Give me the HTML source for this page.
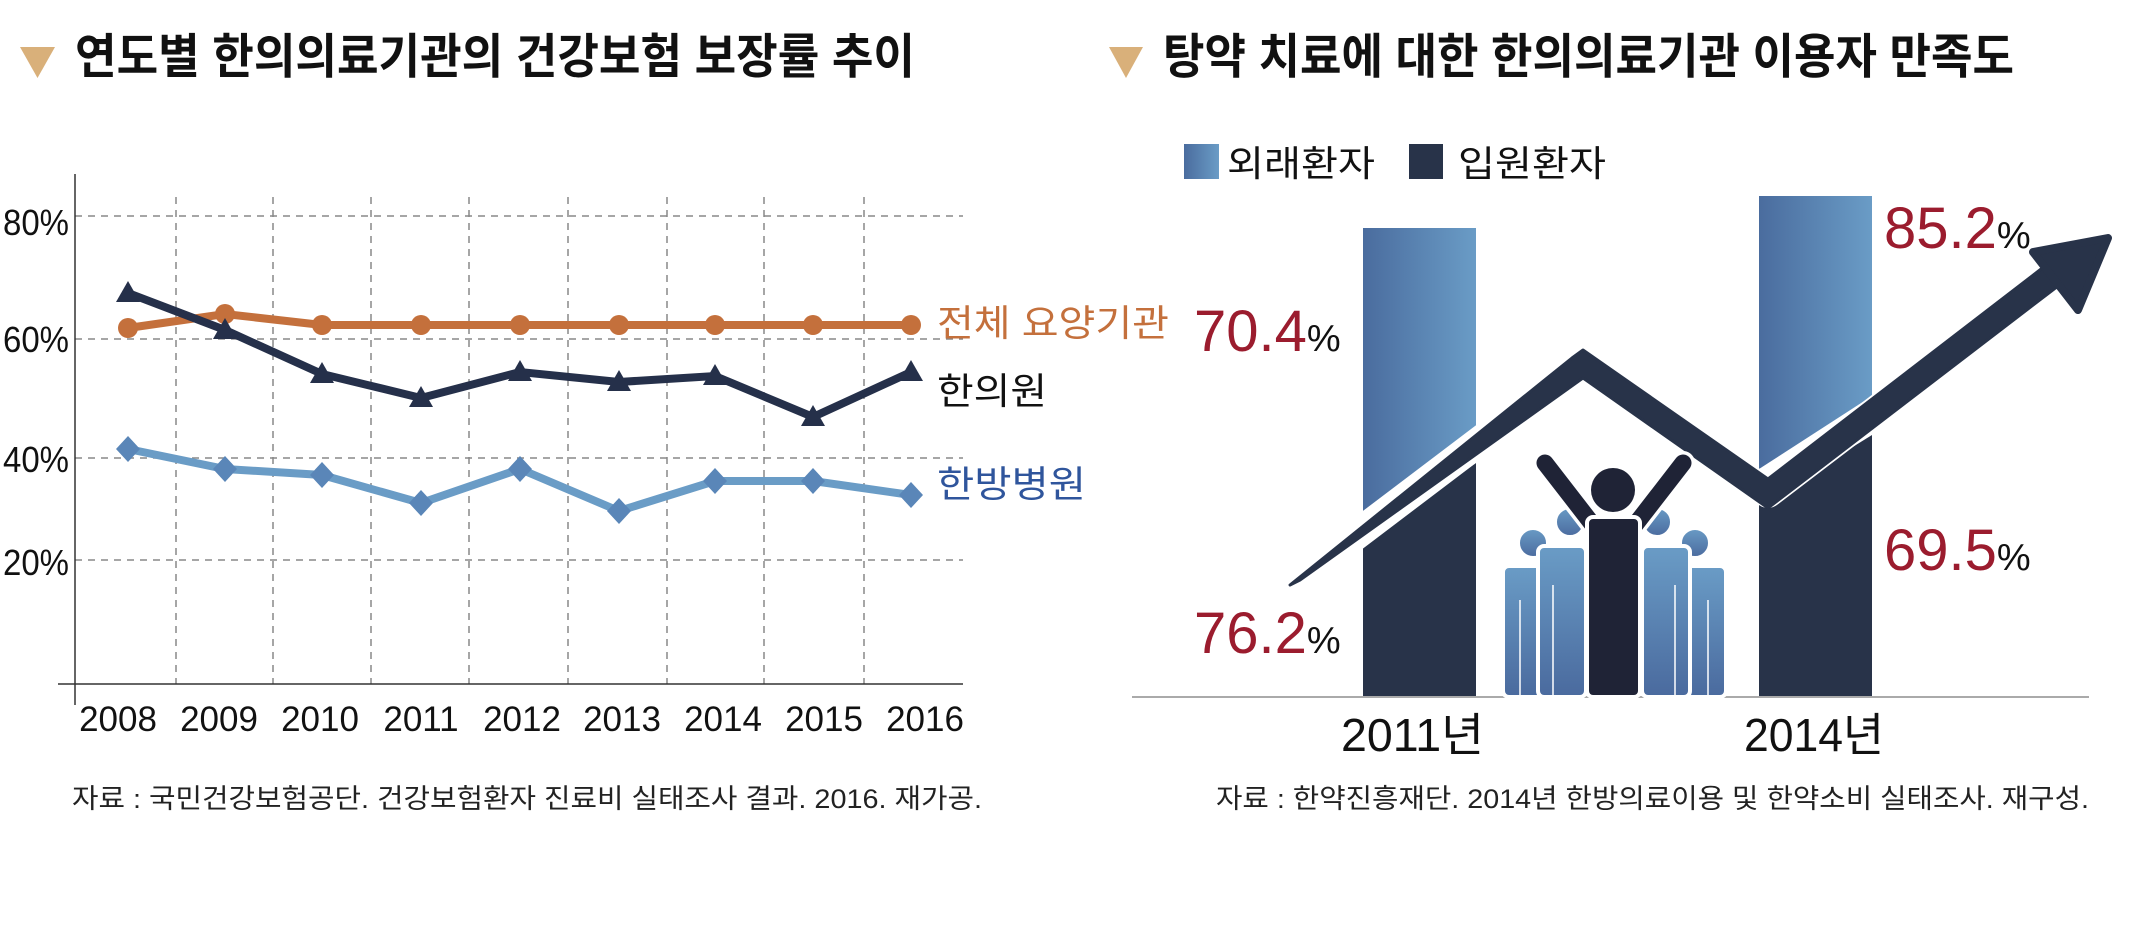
<!DOCTYPE html>
<html><head><meta charset="utf-8"><style>
html,body{margin:0;padding:0;background:#fff;}
svg{display:block;}
text{font-family:"Liberation Sans","Noto Sans CJK KR",sans-serif;}
</style></head><body>
<svg width="2142" height="948" viewBox="0 0 2142 948" xmlns="http://www.w3.org/2000/svg">
<defs>
<linearGradient id="lb" x1="0" x2="1" y1="0" y2="0"><stop offset="0" stop-color="#4a6c9e"/><stop offset="1" stop-color="#6a9cc6"/></linearGradient>
<linearGradient id="pb" x1="0" x2="0" y1="0" y2="1"><stop offset="0" stop-color="#6a9cc6"/><stop offset="1" stop-color="#4a6a9e"/></linearGradient>
</defs>
<!-- LEFT -->
<polygon points="20,47 55,47 37.5,78" fill="#d9b07a"/>
<text x="75" y="73" font-size="48" font-weight="bold" fill="#111" textLength="840" lengthAdjust="spacingAndGlyphs">연도별 한의의료기관의 건강보험 보장률 추이</text>
<g stroke="#888" stroke-width="1.5" stroke-dasharray="7,6" fill="none">
<line x1="75" y1="216" x2="963" y2="216"/><line x1="75" y1="339" x2="963" y2="339"/>
<line x1="75" y1="458" x2="963" y2="458"/><line x1="75" y1="560" x2="963" y2="560"/>
<line x1="176" y1="197" x2="176" y2="684"/><line x1="273" y1="197" x2="273" y2="684"/>
<line x1="371" y1="197" x2="371" y2="684"/><line x1="469" y1="197" x2="469" y2="684"/>
<line x1="568" y1="197" x2="568" y2="684"/><line x1="667" y1="197" x2="667" y2="684"/>
<line x1="764" y1="197" x2="764" y2="684"/><line x1="864" y1="197" x2="864" y2="684"/>
</g>
<line x1="75" y1="174" x2="75" y2="705" stroke="#333" stroke-width="1.5"/>
<line x1="58" y1="684" x2="963" y2="684" stroke="#333" stroke-width="1.5"/>
<g font-size="36" fill="#111">
<text x="3" y="235" textLength="66" lengthAdjust="spacingAndGlyphs">80%</text>
<text x="3" y="352" textLength="66" lengthAdjust="spacingAndGlyphs">60%</text>
<text x="3" y="472" textLength="66" lengthAdjust="spacingAndGlyphs">40%</text>
<text x="3" y="575" textLength="66" lengthAdjust="spacingAndGlyphs">20%</text>
</g>
<g font-size="35" fill="#111" text-anchor="middle">
<text x="118" y="731">2008</text><text x="219" y="731">2009</text><text x="320" y="731">2010</text>
<text x="421" y="731">2011</text><text x="522" y="731">2012</text><text x="622" y="731">2013</text>
<text x="723" y="731">2014</text><text x="824" y="731">2015</text><text x="925" y="731">2016</text>
</g>
<!-- orange -->
<polyline points="128,328 225,314 322,325 421,325 520,325 619,325 715,325 813,325 911,325" fill="none" stroke="#c4703c" stroke-width="8"/>
<g fill="#c4703c"><circle cx="128" cy="328" r="10"/><circle cx="225" cy="314" r="10"/><circle cx="322" cy="325" r="10"/><circle cx="421" cy="325" r="10"/><circle cx="520" cy="325" r="10"/><circle cx="619" cy="325" r="10"/><circle cx="715" cy="325" r="10"/><circle cx="813" cy="325" r="10"/><circle cx="911" cy="325" r="10"/></g>
<!-- navy -->
<polyline points="128,293 225,330 322,374 421,398 520,372 619,382 715,376 813,417 911,372" fill="none" stroke="#25304a" stroke-width="8"/>
<g fill="#25304a">
<polygon points="128,281 140,302 116,302"/><polygon points="225,318 237,339 213,339"/><polygon points="322,362 334,383 310,383"/><polygon points="421,386 433,407 409,407"/><polygon points="520,360 532,381 508,381"/><polygon points="619,370 631,391 607,391"/><polygon points="715,364 727,385 703,385"/><polygon points="813,405 825,426 801,426"/><polygon points="911,360 923,381 899,381"/>
</g>
<!-- blue -->
<polyline points="128,449 225,469 322,475 421,503 520,469 619,511 715,481 813,481 911,495" fill="none" stroke="#6a9cc6" stroke-width="8"/>
<g fill="#5a86b8">
<polygon points="128,436 140,449 128,462 116,449"/><polygon points="225,456 237,469 225,482 213,469"/><polygon points="322,462 334,475 322,488 310,475"/><polygon points="421,490 433,503 421,516 409,503"/><polygon points="520,456 532,469 520,482 508,469"/><polygon points="619,498 631,511 619,524 607,511"/><polygon points="715,468 727,481 715,494 703,481"/><polygon points="813,468 825,481 813,494 801,481"/><polygon points="911,482 923,495 911,508 899,495"/>
</g>
<text x="937" y="336" font-size="37" fill="#c4703c" textLength="232" lengthAdjust="spacingAndGlyphs">전체 요양기관</text>
<text x="937" y="404" font-size="37" fill="#111" textLength="110" lengthAdjust="spacingAndGlyphs">한의원</text>
<text x="937" y="497" font-size="37" fill="#2f559c" textLength="149" lengthAdjust="spacingAndGlyphs">한방병원</text>
<text x="72" y="808" font-size="27" fill="#222" textLength="910" lengthAdjust="spacingAndGlyphs">자료 : 국민건강보험공단. 건강보험환자 진료비 실태조사 결과. 2016. 재가공.</text>

<!-- RIGHT -->
<polygon points="1109,47 1143,47 1126,78" fill="#d9b07a"/>
<text x="1163" y="73" font-size="48" font-weight="bold" fill="#111" textLength="851" lengthAdjust="spacingAndGlyphs">탕약 치료에 대한 한의의료기관 이용자 만족도</text>
<rect x="1184" y="144" width="35" height="35" fill="url(#lb)"/>
<text x="1227" y="176" font-size="36" fill="#111" textLength="148" lengthAdjust="spacingAndGlyphs">외래환자</text>
<rect x="1409" y="144" width="34" height="35" fill="#283349"/>
<text x="1458" y="176" font-size="36" fill="#111" textLength="148" lengthAdjust="spacingAndGlyphs">입원환자</text>
<!-- bars -->
<polygon points="1363,228 1476,228 1476,429 1363,520" fill="url(#lb)"/>
<polygon points="1363,541 1476,463 1476,697 1363,697" fill="#283349"/>
<polygon points="1759,196 1872,196 1872,396 1759,469" fill="url(#lb)"/>
<polygon points="1759,505 1872,435 1872,697 1759,697" fill="#283349"/>
<line x1="1132" y1="697" x2="2089" y2="697" stroke="#aaa" stroke-width="2"/>
<!-- arrow -->
<polyline points="1290,585 1583,363 1768,493 2050,278" fill="none" stroke="#fff" stroke-width="30" stroke-linejoin="round"/>
<polygon points="1290,585 1572,358 1583,350 1768,479 2045,266 2058,286 1768,508 1583,378 1300,580" fill="#283349" stroke="#283349" stroke-width="3" stroke-linejoin="round"/>
<polygon points="2033,252 2108,238 2078,310" fill="#283349" stroke="#283349" stroke-width="8" stroke-linejoin="round"/>
<!-- people -->
<g stroke="#fff" stroke-width="4" fill="url(#pb)">
<circle cx="1533" cy="543" r="15"/><circle cx="1695" cy="543" r="15"/>
<rect x="1503" y="566" width="46" height="131" rx="6"/><rect x="1680" y="566" width="46" height="131" rx="6"/>
<circle cx="1570" cy="522" r="15"/><circle cx="1657" cy="522" r="15"/>
<rect x="1538" y="546" width="48" height="151" rx="6"/><rect x="1642" y="546" width="48" height="151" rx="6"/>
</g>
<g stroke="#fff" stroke-width="1.5">
<line x1="1520" y1="600" x2="1520" y2="697"/><line x1="1708" y1="600" x2="1708" y2="697"/>
<line x1="1553" y1="585" x2="1553" y2="697"/><line x1="1675" y1="585" x2="1675" y2="697"/>
</g>
<line x1="1545" y1="463" x2="1593" y2="525" stroke="#fff" stroke-width="24" stroke-linecap="round"/>
<line x1="1683" y1="463" x2="1635" y2="525" stroke="#fff" stroke-width="24" stroke-linecap="round"/>
<line x1="1545" y1="463" x2="1593" y2="525" stroke="#1f2336" stroke-width="17" stroke-linecap="round"/>
<line x1="1683" y1="463" x2="1635" y2="525" stroke="#1f2336" stroke-width="17" stroke-linecap="round"/>
<rect x="1587" y="517" width="53" height="180" rx="6" fill="#1f2336" stroke="#fff" stroke-width="4"/>
<circle cx="1613" cy="490" r="22" fill="#1f2336"/>
<!-- labels -->
<g font-size="58" fill="#9b1c2e">
<text x="1194" y="351">70.4<tspan font-size="38" fill="#111">%</tspan></text>
<text x="1194" y="653">76.2<tspan font-size="38" fill="#111">%</tspan></text>
<text x="1884" y="248">85.2<tspan font-size="38" fill="#111">%</tspan></text>
<text x="1884" y="570">69.5<tspan font-size="38" fill="#111">%</tspan></text>
</g>
<text x="1341" y="751" font-size="46" fill="#111" textLength="143" lengthAdjust="spacingAndGlyphs">2011년</text>
<text x="1744" y="751" font-size="46" fill="#111" textLength="140" lengthAdjust="spacingAndGlyphs">2014년</text>
<text x="1216" y="808" font-size="27" fill="#222" textLength="873" lengthAdjust="spacingAndGlyphs">자료 : 한약진흥재단. 2014년 한방의료이용 및 한약소비 실태조사. 재구성.</text>
</svg>
</body></html>
